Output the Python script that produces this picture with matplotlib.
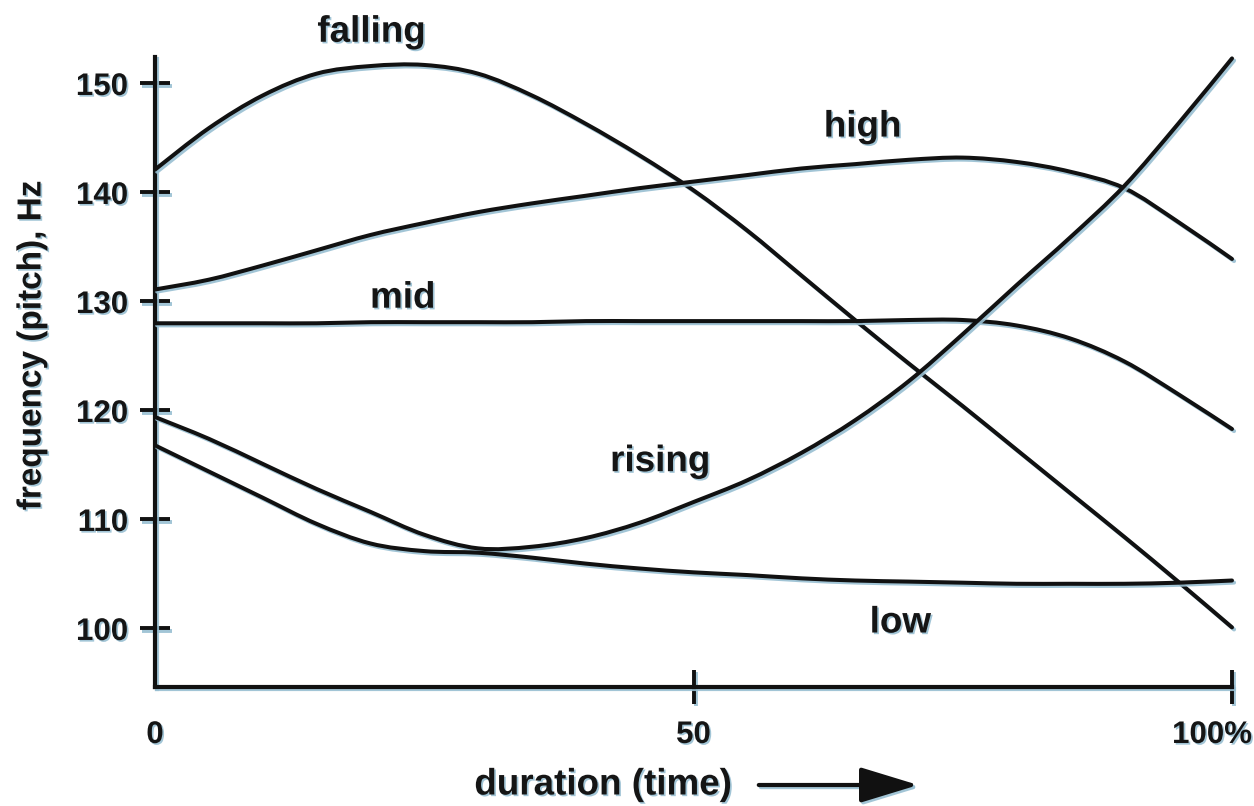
import matplotlib
matplotlib.use("Agg")
import matplotlib.pyplot as plt
import matplotlib.patheffects as pe
import matplotlib.transforms as mtransforms
from matplotlib.patches import FancyArrowPatch, PathPatch
from matplotlib.path import Path

# ---------------- data ----------------
duration = [0, 5, 10, 15, 20, 25, 30, 35, 40, 45, 50,
            55, 60, 65, 70, 75, 80, 85, 90, 95, 100]

falling = [142.1, 145.9, 148.9, 150.9, 151.6, 151.7, 150.9, 148.9, 146.3, 143.4, 140.2,
           136.5, 132.4, 128.3, 124.3, 120.4, 116.4, 112.4, 108.4, 104.3, 100.1]
high = [131.1, 132.0, 133.3, 134.7, 136.1, 137.2, 138.2, 139.0, 139.7, 140.4, 141.0,
        141.6, 142.2, 142.6, 143.0, 143.2, 142.8, 141.9, 140.4, 137.3, 133.9]
mid = [128.0, 128.0, 128.0, 128.0, 128.1, 128.1, 128.1, 128.1, 128.2, 128.2, 128.2,
       128.2, 128.2, 128.2, 128.3, 128.3, 127.8, 126.6, 124.5, 121.5, 118.3]
rising = [119.4, 117.4, 115.1, 112.8, 110.7, 108.6, 107.35, 107.5, 108.3, 109.7, 111.6,
          113.6, 116.1, 119.1, 122.7, 127.0, 131.5, 135.9, 140.6, 146.3, 152.3]
low = [116.8, 114.4, 112.0, 109.6, 107.8, 107.1, 106.95, 106.5, 105.95, 105.5, 105.15,
       104.9, 104.6, 104.4, 104.3, 104.2, 104.1, 104.1, 104.1, 104.2, 104.4]

series = [falling, high, mid, rising, low]
tone_names = ["falling", "high", "mid", "rising", "low"]
label_pos = [(20.1, 154.7), (65.7, 146.0), (23.0, 130.3), (46.9, 115.3), (69.2, 100.5)]

yticks = [100, 110, 120, 130, 140, 150]
xticks = [0, 50, 100]
xtick_labels = ["0", "50", "100%"]

# ---------------- styling ----------------
W, H = 1254, 806
fig = plt.figure(figsize=(W / 100, H / 100), dpi=100)
ax = fig.add_axes([155 / W, 1 - 687 / H, (1232 - 155) / W, (687 - 57) / H])

shadow_col = "#98bfd2"
line_fx = [pe.SimpleLineShadow(offset=(1.5, -1.5), shadow_color=shadow_col, alpha=0.9),
           pe.Normal()]
text_fx = [pe.withSimplePatchShadow(offset=(1.2, -1.2), shadow_rgbFace=shadow_col, alpha=0.9)]
FONT = "Liberation Sans"


def smooth_path(xs, ys):
    """Catmull-Rom curve through the data points, as cubic Bezier segments."""
    n = len(xs)
    verts = [(xs[0], ys[0])]
    codes = [Path.MOVETO]
    for i in range(n - 1):
        i0 = max(i - 1, 0)
        i3 = min(i + 2, n - 1)
        c1 = (xs[i] + (xs[i + 1] - xs[i0]) / 6.0, ys[i] + (ys[i + 1] - ys[i0]) / 6.0)
        c2 = (xs[i + 1] - (xs[i3] - xs[i]) / 6.0, ys[i + 1] - (ys[i3] - ys[i]) / 6.0)
        verts += [c1, c2, (xs[i + 1], ys[i + 1])]
        codes += [Path.CURVE4] * 3
    return Path(verts, codes)


for ys in series:
    patch = PathPatch(smooth_path(duration, ys), fill=False, edgecolor="#111111",
                      lw=2.9, capstyle="round", joinstyle="round",
                      clip_on=False, zorder=3, transform=ax.transData)
    patch.set_path_effects(line_fx)
    ax.add_patch(patch)

for name, (xx, yy) in zip(tone_names, label_pos):
    ax.text(xx, yy, name, ha="center", va="center", fontsize=26.5,
            fontweight="bold", family=FONT, color="#151515",
            path_effects=text_fx, clip_on=False)

ax.set_xlim(0, 100)
ax.set_ylim(94.63, 152.43)

for s in ["top", "right"]:
    ax.spines[s].set_visible(False)
for s in ["left", "bottom"]:
    ax.spines[s].set_linewidth(3.0)
    ax.spines[s].set_color("#111111")
    ax.spines[s].set_capstyle("projecting")
    ax.spines[s].set_path_effects(line_fx)

ax.set_yticks(yticks)
ax.set_yticklabels([str(v) for v in yticks])
ax.set_xticks(xticks)
ax.set_xticklabels(xtick_labels)
ax.tick_params(axis="y", direction="inout", length=21.5, width=2.8, pad=8.6,
               color="#111111", labelsize=22.5)
ax.tick_params(axis="x", direction="inout", length=24.5, width=2.8, pad=11.5,
               color="#111111", labelsize=22.5)
ax.xaxis.get_major_ticks()[0].tick1line.set_visible(False)
ax.xaxis.get_major_ticks()[0].tick2line.set_visible(False)
for lab in ax.get_xticklabels() + ax.get_yticklabels():
    lab.set_fontweight("bold")
    lab.set_family(FONT)
    lab.set_color("#151515")
    lab.set_path_effects(text_fx)
# the "100%" label sits a little to the left of its tick in the reference
last = ax.get_xticklabels()[-1]
last.set_transform(last.get_transform() +
                   mtransforms.ScaledTranslation(-20 / 100, 0, fig.dpi_scale_trans))
for tl in ax.get_xticklines() + ax.get_yticklines():
    tl.set_path_effects(line_fx)

# axis titles
fig.text(32 / W, 1 - 345 / H, "frequency (pitch), Hz", rotation=90,
         ha="center", va="center", fontsize=24, fontweight="bold", family=FONT,
         color="#151515", path_effects=text_fx)
fig.text(603 / W, 1 - 785 / H, "duration (time)", ha="center", va="center",
         fontsize=26.5, fontweight="bold", family=FONT, color="#151515",
         path_effects=text_fx)

arrow = FancyArrowPatch((756 / W, 1 - 785 / H), (921 / W, 1 - 785 / H),
                        transform=fig.transFigure,
                        arrowstyle="-|>,head_length=1.8,head_width=0.55",
                        mutation_scale=20, lw=3.0, color="#111111",
                        path_effects=line_fx)
fig.add_artist(arrow)

fig.savefig("out.png", dpi=100, facecolor="white")
